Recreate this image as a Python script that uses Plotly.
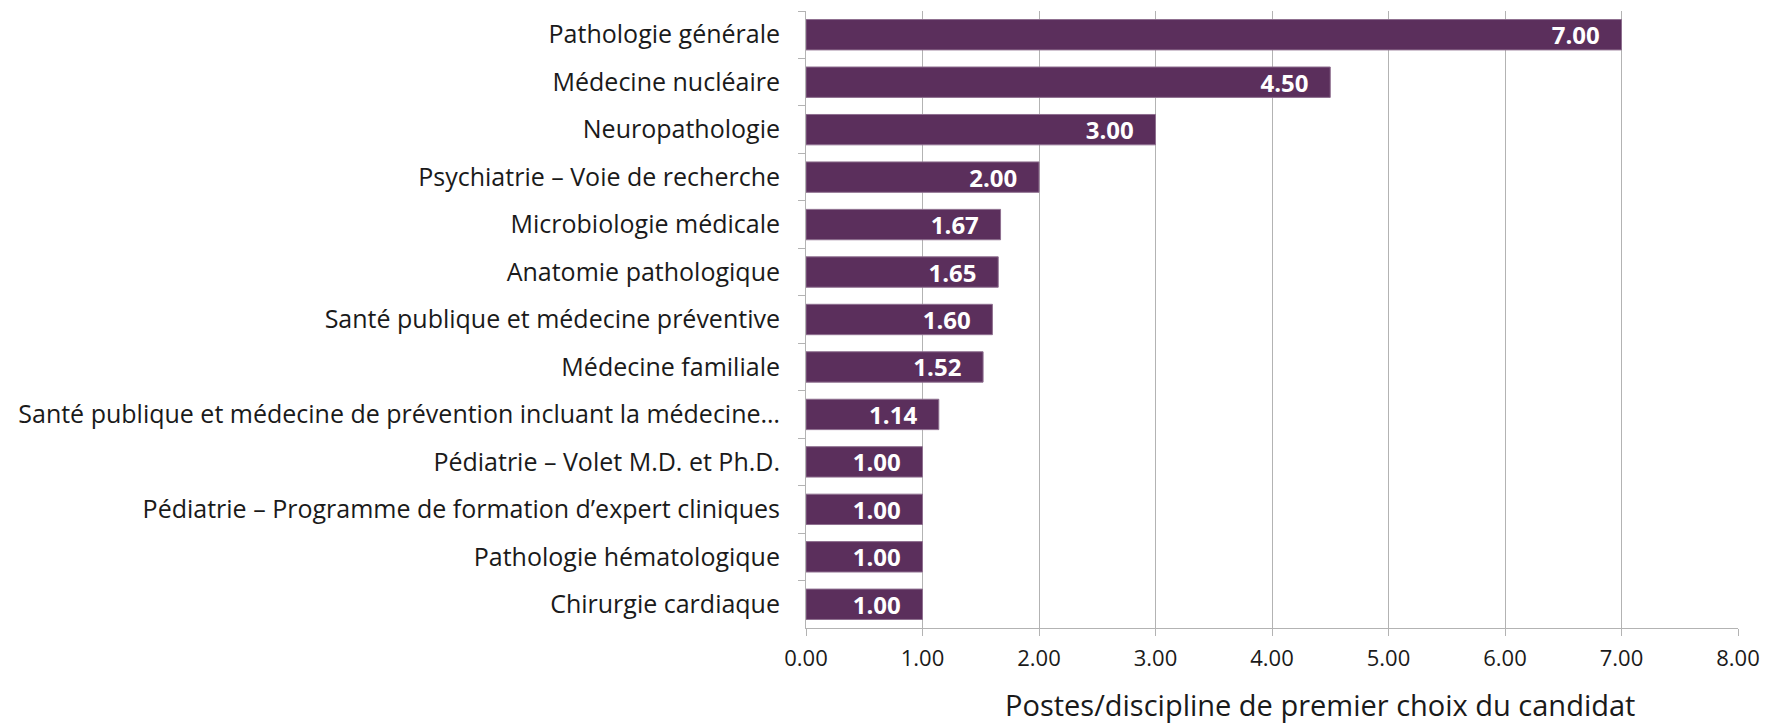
import plotly.graph_objects as go

categories = [
    "Pathologie générale",
    "Médecine nucléaire",
    "Neuropathologie",
    "Psychiatrie – Voie de recherche",
    "Microbiologie médicale",
    "Anatomie pathologique",
    "Santé publique et médecine préventive",
    "Médecine familiale",
    "Santé publique et médecine de prévention incluant la médecine…",
    "Pédiatrie – Volet M.D. et Ph.D.",
    "Pédiatrie – Programme de formation d’expert cliniques",
    "Pathologie hématologique",
    "Chirurgie cardiaque",
]
values = [7.00, 4.50, 3.00, 2.00, 1.67, 1.65, 1.60, 1.52, 1.14, 1.00, 1.00, 1.00, 1.00]
x_ticks = [0, 1, 2, 3, 4, 5, 6, 7, 8]
x_title = "Postes/discipline de premier choix du candidat"

FONT = "Open Sans"
BAR = "#5b2f5c"
GRID = "#b3b3b3"

fig = go.Figure(
    go.Bar(
        x=values,
        y=categories,
        orientation="h",
        marker=dict(color=BAR, line=dict(color="#8e6f8f", width=1)),
        texttemplate="%{x:.2f}\u00a0\u00a0\u00a0",
        textposition="inside",
        insidetextanchor="end",
        constraintext="none",
        textfont=dict(family=FONT, size=24, color="white", weight="bold"),
        name=x_title,
        showlegend=False,
        hoverinfo="skip",
    )
)

fig.update_layout(
    width=1766,
    height=723,
    margin=dict(l=806, r=28, t=11, b=95, autoexpand=False),
    plot_bgcolor="white",
    paper_bgcolor="white",
    bargap=0.36,
    font=dict(family=FONT, size=25, color="#1a1a1a"),
    xaxis=dict(
        range=[0, 8],
        tickvals=x_ticks,
        tickformat=".2f",
        showgrid=True,
        gridcolor=GRID,
        gridwidth=1,
        showline=True,
        linecolor=GRID,
        linewidth=1,
        ticks="outside",
        ticklen=7,
        tickcolor=GRID,
        tickfont=dict(family=FONT, size=22, color="#1a1a1a"),
        ticklabelstandoff=4,
        zeroline=False,
    ),
    yaxis=dict(
        autorange="reversed",
        showline=True,
        linecolor=GRID,
        linewidth=1,
        ticks="outside",
        tickson="boundaries",
        ticklen=7,
        tickcolor=GRID,
        showgrid=False,
        tickfont=dict(family=FONT, size=25, color="#1a1a1a"),
        ticklabelstandoff=20,
    ),
    annotations=[
        dict(
            text=x_title,
            xref="paper",
            yref="paper",
            x=0.552,
            y=0,
            yshift=-76,
            xanchor="center",
            yanchor="middle",
            showarrow=False,
            font=dict(family=FONT, size=29, color="#1a1a1a"),
        )
    ],
)

fig.write_html(
    "out.html",
    config={"displayModeBar": False},
    post_script="document.body.style.margin='0px';document.body.style.overflow='hidden';",
)
